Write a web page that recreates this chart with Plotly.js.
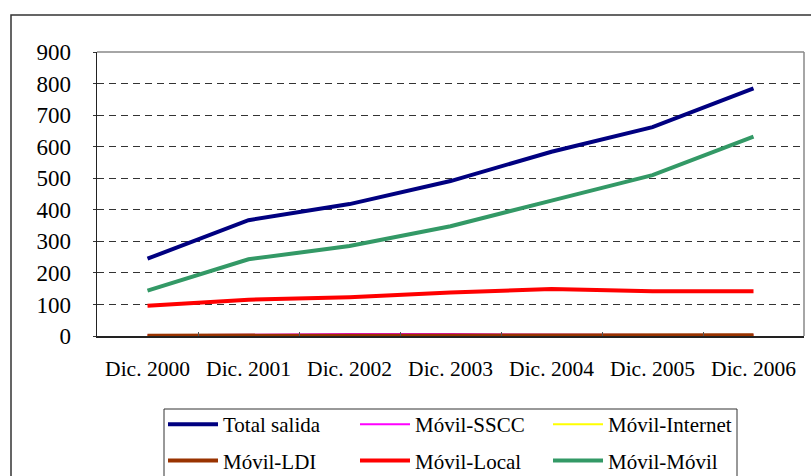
<!DOCTYPE html>
<html><head><meta charset="utf-8">
<script src="https://cdn.plot.ly/plotly-3.0.1.min.js"></script>
<style>html,body{margin:0;padding:0;background:#fff;}#chart{width:811px;height:476px;}</style>
</head><body><div id="chart"></div>
<script>
const categories = ["Dic. 2000","Dic. 2001","Dic. 2002","Dic. 2003","Dic. 2004","Dic. 2005","Dic. 2006"];
const totalSalida = [245, 367, 418, 491, 584, 662, 785];
const movilSSCC   = [2, 5, 6, 6, 4, 3, 3];
const movilInternet = [0, 0, 0, 0, 0, 1, 1];
const movilLDI    = [1, 1, 1, 1, 1, 2, 2];
const movilLocal  = [96, 115, 123, 138, 149, 142, 142];
const movilMovil  = [144, 243, 285, 348, 429, 510, 632];
const yTicks = [0,100,200,300,400,500,600,700,800,900];

const font = "Liberation Serif, Times New Roman, serif";
function tr(name, y, color, w, legend){
  return {x: categories, y: y, name: name, type: 'scatter', mode: 'lines',
          line: {color: color, width: w}, legend: legend, legendgroup: name};
}
const data = [
  tr("Total salida", totalSalida, "#000080", 4, "legend"),
  tr("Móvil-SSCC", movilSSCC, "#FF00FF", 2, "legend2"),
  tr("Móvil-Internet", movilInternet, "#FFFF00", 2, "legend3"),
  tr("Móvil-LDI", movilLDI, "#993300", 4, "legend"),
  tr("Móvil-Local", movilLocal, "#FF0000", 4, "legend2"),
  tr("Móvil-Móvil", movilMovil, "#339966", 4, "legend3")
];
const L=97, R=804, T=52, B=336, W=811, H=476;
const px = v => (v - L)/(R - L);
const py = v => (B - v)/(B - T);
function leg(xp){
  return {orientation: 'v', x: px(xp), xanchor: 'left', y: py(404), yanchor: 'top',
    font: {family: font, size: 21, color: "#000"}, tracegroupgap: 6, itemwidth: 50,
    bgcolor: "rgba(0,0,0,0)", borderwidth: 0, traceorder: 'grouped'};
}
const layout = {
  width: W, height: H,
  margin: {l: L, r: W-R, t: T, b: H-B, pad: 0, autoexpand: false},
  paper_bgcolor: "#fff", plot_bgcolor: "#fff",
  font: {family: font, size: 22, color: "#000"},
  showlegend: true,
  xaxis: {
    type: 'category', range: [-0.5, 6.5], fixedrange: true,
    showgrid: false, zeroline: false,
    showline: true, linecolor: "#222", linewidth: 1.5,
    tickson: 'boundaries', ticks: 'inside', ticklen: 4, tickcolor: "#555", tickwidth: 1,
    ticklabelstandoff: 13, automargin: false,
    tickfont: {family: font, size: 21.5, color: "#000"}
  },
  yaxis: {
    range: [0, 900], fixedrange: true,
    tickvals: yTicks, ticktext: yTicks.map(String),
    showgrid: true, gridcolor: "#333", gridwidth: 1, griddash: "7px,5px",
    zeroline: false,
    showline: true, linecolor: "#222", linewidth: 1.5,
    ticks: 'outside', ticklen: 3, tickcolor: "#333",
    ticklabelstandoff: 17, automargin: false,
    tickfont: {family: font, size: 23, color: "#000"}
  },
  legend: leg(163),
  legend2: leg(355),
  legend3: leg(548),
  shapes: [
    {type: 'rect', xref: 'paper', yref: 'paper', x0: px(11), x1: px(840), y0: py(520), y1: py(15),
     line: {color: "#333", width: 1.5}, fillcolor: "rgba(0,0,0,0)", layer: 'below'},
    {type: 'line', xref: 'paper', yref: 'paper', x0: 0, x1: 1, y0: 1, y1: 1,
     line: {color: "#888", width: 1.5}, layer: 'above'},
    {type: 'line', xref: 'paper', yref: 'paper', x0: 1, x1: 1, y0: 0, y1: 1,
     line: {color: "#888", width: 1.5}, layer: 'above'},
    {type: 'rect', xref: 'paper', yref: 'paper', x0: px(164), x1: px(737), y0: py(520), y1: py(409),
     line: {color: "#333", width: 1}, fillcolor: "rgba(0,0,0,0)", layer: 'above'}
  ]
};
Plotly.newPlot('chart', data, layout, {staticPlot: true, displayModeBar: false});
</script></body></html>
